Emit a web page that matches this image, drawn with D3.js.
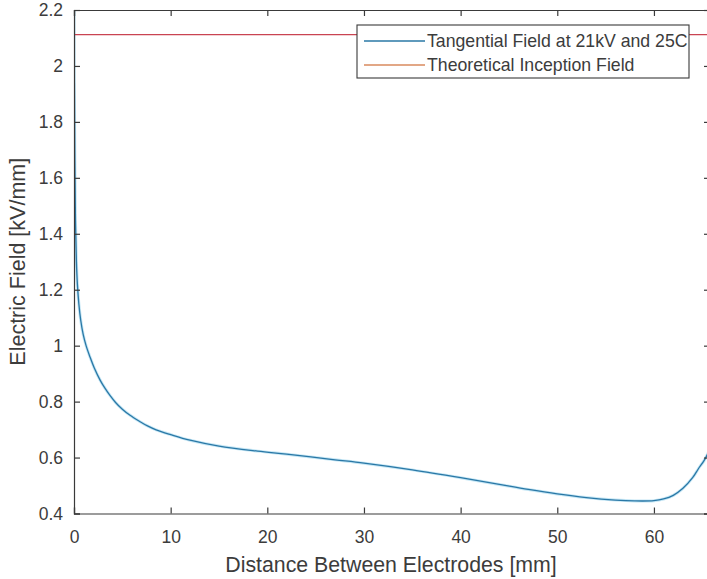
<!DOCTYPE html>
<html>
<head>
<meta charset="utf-8">
<script src="https://cdn.jsdelivr.net/npm/d3@7/dist/d3.min.js"></script>
<style>
  html, body { margin: 0; padding: 0; background: #fff; }
  svg { display: block; font-family: "Liberation Sans", Arial, Helvetica, sans-serif; }
</style>
</head>
<body>
<svg id="chart" width="707" height="579"></svg>
<script>
// Tangential field along the insulator surface (distance in mm, field in kV/mm)
const distanceMm = [0, 0.03, 0.08, 0.15, 0.25, 0.35, 0.5, 0.7, 0.95, 1.25, 1.65, 2.1, 2.7, 3.2, 3.7, 4.3, 5.0, 5.8, 6.8, 7.6,
  8.5, 10, 12, 15, 19, 22, 27, 30, 35, 40, 44, 47, 50, 53, 56, 58, 60, 61, 62, 63, 64, 64.6, 65.2, 65.8];
const tangentialField = [2.35, 2.0, 1.7, 1.45, 1.3, 1.22, 1.15, 1.09, 1.04, 1.0, 0.96, 0.92, 0.877, 0.848, 0.823, 0.797, 0.773, 0.751, 0.729, 0.713,
  0.699, 0.682, 0.662, 0.641, 0.623, 0.612, 0.592, 0.58, 0.556, 0.528, 0.504, 0.486, 0.47, 0.457, 0.448, 0.445, 0.446, 0.452, 0.465, 0.49, 0.528, 0.56, 0.59, 0.63];
const inceptionField = 2.112;

const seriesNames = ["Tangential Field at 21kV and 25C", "Theoretical Inception Field"];
const xTicks = [0, 10, 20, 30, 40, 50, 60];
const yTicks = [0.4, 0.6, 0.8, 1, 1.2, 1.4, 1.6, 1.8, 2, 2.2];
const xLabel = "Distance Between Electrodes [mm]";
const yLabel = "Electric Field [kV/mm]";

const svg = d3.select("#chart");
const plotLeft = 74, plotRight = 710, plotTop = 10, plotBottom = 513.5;
const axisColor = "#3a3a3a", textColor = "#3c3c3c";

const x = d3.scaleLinear().domain([0, 65.8]).range([plotLeft, plotRight]);
const y = d3.scaleLinear().domain([0.4, 2.2]).range([plotBottom, plotTop]);

// clip region for plotted lines
svg.append("defs").append("clipPath").attr("id", "plot-clip")
  .append("rect").attr("x", plotLeft).attr("y", plotTop)
  .attr("width", plotRight - plotLeft).attr("height", plotBottom - plotTop);

const plot = svg.append("g").attr("clip-path", "url(#plot-clip)");

const line = d3.line().x((d, i) => x(distanceMm[i])).y(d => y(d)).curve(d3.curveCatmullRom.alpha(0.5));

// soft halo under the field curve, then the curve itself
plot.append("path").datum(tangentialField)
  .attr("d", line).attr("fill", "none")
  .attr("stroke", "#9fd6ee").attr("stroke-width", 3).attr("stroke-opacity", 0.6);
plot.append("path").datum(tangentialField)
  .attr("d", line).attr("fill", "none")
  .attr("stroke", "#2a78a6").attr("stroke-width", 1.3);

plot.append("line")
  .attr("x1", x(0)).attr("x2", x(65.8))
  .attr("y1", y(inceptionField)).attr("y2", y(inceptionField))
  .attr("stroke", "#c94452").attr("stroke-width", 1.2);

// axes: ticks point inward, box on all sides
const tickLen = 6;

const xAxisB = d3.axisBottom(x).tickValues(xTicks).tickSize(-tickLen).tickPadding(tickLen + 11).tickFormat(d3.format(""));
const xAxisT = d3.axisTop(x).tickValues(xTicks).tickSize(-tickLen).tickFormat("");
const yAxisL = d3.axisLeft(y).tickValues(yTicks).tickSize(-tickLen).tickPadding(tickLen + 5).tickFormat(d3.format(""));
const yAxisR = d3.axisRight(y).tickValues(yTicks).tickSize(-tickLen).tickFormat("");

function styleAxis(g) {
  g.select(".domain").attr("stroke", axisColor).attr("stroke-width", 1.2);
  g.selectAll(".tick line").attr("stroke", axisColor).attr("stroke-width", 1.2);
  g.selectAll(".tick text").attr("fill", textColor).attr("font-size", 17.5)
    .attr("font-family", "'Liberation Sans', Arial, sans-serif");
}

svg.append("g").attr("transform", `translate(0,${plotBottom})`).call(xAxisB).call(styleAxis);
svg.append("g").attr("transform", `translate(0,${plotTop})`).call(xAxisT).call(styleAxis);
svg.append("g").attr("transform", `translate(${plotLeft},0)`).call(yAxisL).call(styleAxis);
svg.append("g").attr("transform", `translate(${plotRight},0)`).call(yAxisR).call(styleAxis);

// axis titles
svg.append("text")
  .attr("x", (plotLeft + plotRight) / 2 - 1).attr("y", 572)
  .attr("text-anchor", "middle").attr("fill", textColor).attr("font-size", 21.3)
  .text(xLabel);
svg.append("text")
  .attr("transform", `translate(25,${(plotTop + plotBottom) / 2}) rotate(-90)`)
  .attr("text-anchor", "middle").attr("fill", textColor).attr("font-size", 21.5)
  .text(yLabel);

// legend
const legend = svg.append("g");
const lx = 357, ly = 25, lw = 332, lh = 53;
legend.append("rect").attr("x", lx).attr("y", ly).attr("width", lw).attr("height", lh)
  .attr("fill", "#fff").attr("stroke", axisColor).attr("stroke-width", 1.1);
const legendColors = ["#2a78a6", "#d98a5e"];
seriesNames.forEach((name, i) => {
  const cy = ly + 16 + i * 24;
  legend.append("line").attr("x1", lx + 7).attr("x2", lx + 68).attr("y1", cy).attr("y2", cy)
    .attr("stroke", legendColors[i]).attr("stroke-width", 1.3);
  legend.append("text").attr("x", lx + 70).attr("y", cy + 6)
    .attr("fill", textColor).attr("font-size", 17.7).text(name);
});
</script>
</body>
</html>
